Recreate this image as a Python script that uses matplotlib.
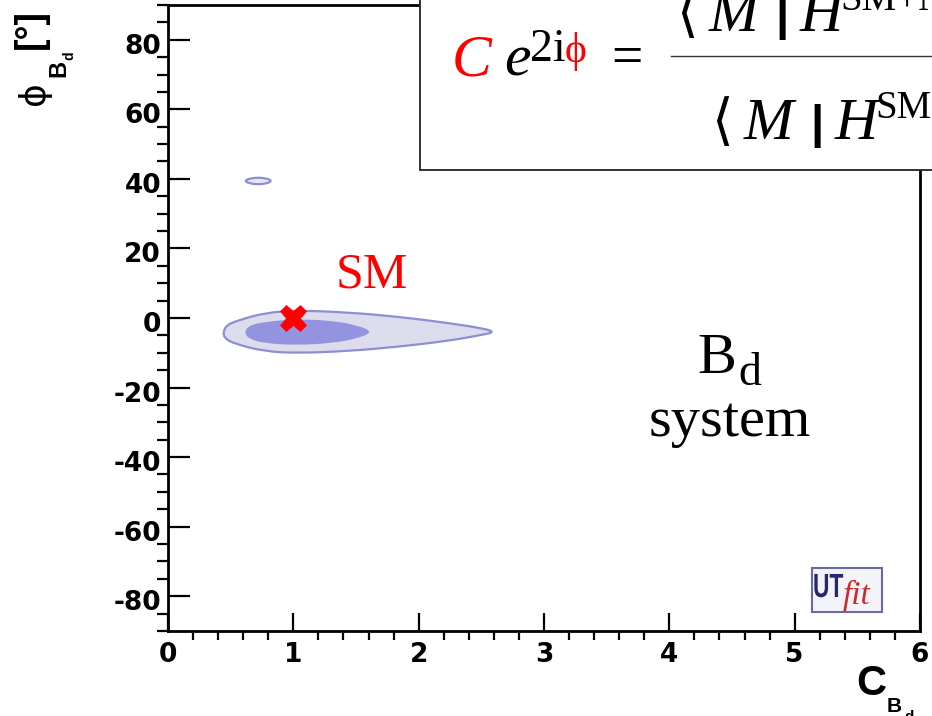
import numpy as np
import matplotlib
matplotlib.use("Agg")
import matplotlib.pyplot as plt
from matplotlib.path import Path
from matplotlib.patches import PathPatch, Rectangle
from matplotlib.ticker import MultipleLocator
from matplotlib.textpath import TextPath
from matplotlib.font_manager import FontProperties
from matplotlib.transforms import Affine2D, IdentityTransform, ScaledTranslation

plt.rcParams["axes.unicode_minus"] = False

W, H = 932, 716

# probability regions in the (C, phi) plane, outlines traced clockwise
outer_c = [0.44, 0.47, 0.55, 0.77, 1.04, 1.44, 1.83, 2.23, 2.50, 2.61,
           2.50, 2.23, 1.83, 1.44, 1.04, 0.77, 0.53, 0.45]
outer_phi = [-4.0, -2.0, -0.8, 1.5, 2.2, 1.6, 0.4, -1.4, -2.9, -4.0,
             -4.9, -6.6, -8.3, -9.5, -10.1, -9.6, -7.4, -5.8]

inner_c = [0.61, 0.65, 0.77, 1.04, 1.31, 1.50, 1.64, 1.50, 1.31, 1.04, 0.77, 0.64]
inner_phi = [-4.0, -2.1, -1.1, -0.3, -0.8, -2.0, -4.0, -6.0, -7.2, -7.8, -7.3, -5.9]

island_c = [0.61, 0.65, 0.72, 0.79, 0.83, 0.79, 0.72, 0.65]
island_phi = [39.4, 40.1, 40.4, 40.1, 39.4, 38.7, 38.4, 38.7]

# Standard Model point
sm_c, sm_phi = 1.0, 0.0

x_ticks = [0, 1, 2, 3, 4, 5, 6]
y_ticks = [-80, -60, -40, -20, 0, 20, 40, 60, 80]

OUTER_FILL = "#dcdcec"
EDGE = "#8e8ed4"
INNER_FILL = "#9393e0"


def smooth_closed(xs, ys):
    # quadratic bezier through the midpoints, vertices act as control points
    pts = np.column_stack([xs, ys])
    mids = (pts + np.roll(pts, -1, axis=0)) / 2
    verts = [mids[-1]]
    codes = [Path.MOVETO]
    for p, m in zip(pts, mids):
        verts += [p, m]
        codes += [Path.CURVE3, Path.CURVE3]
    return Path(verts, codes)


def px(x, y):
    return x / W, 1 - y / H


fig = plt.figure(figsize=(W / 100, H / 100), dpi=100)
ax = fig.add_axes([168 / W, 1 - 631 / H, (920 - 168) / W, (631 - 5) / H])

ax.add_patch(PathPatch(smooth_closed(outer_c, outer_phi), facecolor=OUTER_FILL,
                       edgecolor=EDGE, lw=1.6, zorder=2))
ax.add_patch(PathPatch(smooth_closed(inner_c, inner_phi), facecolor=INNER_FILL,
                       edgecolor="none", zorder=3))
ax.add_patch(PathPatch(smooth_closed(island_c, island_phi), facecolor="#e6e6f2",
                       edgecolor=EDGE, lw=1.6, zorder=2))

ax.plot([sm_c], [sm_phi], marker="X", ms=19, color="red", mec="red", mew=0.5,
        ls="none", zorder=5)

ax.set_xlim(0, 6)
ax.set_ylim(-90, 90)
ax.set_xticks(x_ticks)
ax.set_yticks(y_ticks)
ax.xaxis.set_minor_locator(MultipleLocator(0.2))
ax.yaxis.set_minor_locator(MultipleLocator(5))

for s in ax.spines.values():
    s.set_linewidth(2.0)
ax.tick_params(direction="in", width=1.6, labelsize=19, top=False, right=False)
ax.tick_params(axis="x", which="major", length=13, pad=8)
ax.tick_params(axis="x", which="minor", length=6.5, width=1.6)
ax.tick_params(axis="y", which="major", length=16, pad=5)
ax.tick_params(axis="y", which="minor", length=8, width=1.6)
for lab in ax.get_xticklabels() + ax.get_yticklabels():
    lab.set_family("DejaVu Sans")
    lab.set_fontweight("bold")
down = ScaledTranslation(0, -0.04, fig.dpi_scale_trans)
for lab in ax.get_yticklabels():
    lab.set_transform(lab.get_transform() + down)

# axis titles
sans_b = dict(family="Liberation Sans", fontweight="bold", color="black")
fig.text(*px(856, 695), "C", fontsize=30, ha="left", va="baseline", **sans_b)
fig.text(*px(887, 712), "B", fontsize=15, ha="left", va="baseline", **sans_b)
fig.text(*px(904, 721), "d", fontsize=11, ha="left", va="baseline", **sans_b)

fig.text(*px(34, 93), "\u03d5", fontsize=26, rotation=90, ha="center", va="center",
         family=["DejaVu Sans"], color="black")
fig.text(*px(59, 68), "B", fontsize=17, rotation=90, ha="center", va="center", **sans_b)
fig.text(*px(69, 56), "d", fontsize=10, rotation=90, ha="center", va="center", **sans_b)
fig.text(*px(31, 29), "[\u00b0]", fontsize=27, rotation=90, ha="center", va="center",
         **sans_b)

serif = ["Liberation Serif", "DejaVu Serif", "DejaVu Sans"]

# in-plot labels
fig.text(*px(336, 288), "SM", fontsize=36, color="red", family=serif,
         ha="left", va="baseline")
fig.text(*px(697, 373), "B", fontsize=42, family=serif, ha="left", va="baseline")
fig.text(*px(738, 385), "d", fontsize=33, family=serif, ha="left", va="baseline")
fig.text(*px(730, 436), "system", fontsize=42, family=serif, ha="center", va="baseline")

# definition box in the upper right corner
fig.add_artist(Rectangle(px(420, 170), 600 / W, 200 / H, facecolor="white",
                         edgecolor="#222222", lw=1.3, zorder=1))
fig.text(*px(452, 76), "C", fontsize=43, color="red", family=serif, style="italic",
         ha="left", va="baseline")
fig.text(*px(504, 76), "e", fontsize=43, family=serif, style="italic",
         ha="left", va="baseline")
fig.text(*px(530, 61), "2i", fontsize=33, family=serif, ha="left", va="baseline")
fig.text(*px(565, 62), "\u03d5", fontsize=30, color="red", family=serif,
         ha="left", va="baseline")
fig.text(*px(611, 74), "=", fontsize=40, family=serif, ha="left", va="baseline")
fig.add_artist(plt.Line2D([671 / W, 1.0], [1 - 56 / H] * 2, color="#333333",
                          lw=1.0, zorder=4))
for x0, y0, sup in [(676, 31, "SM+NP"), (711, 139, "SM")]:
    fig.text(*px(x0, y0), "\u27e8", fontsize=40, family=["DejaVu Sans"],
             ha="left", va="baseline")
    fig.text(*px(x0 + 33, y0), "M", fontsize=43, family=serif, style="italic",
             ha="left", va="baseline")
    fig.text(*px(x0 + 99, y0 - 1), "|", fontsize=34, family=["Liberation Sans"],
             fontweight="bold", ha="left", va="baseline")
    fig.text(*px(x0 + 124, y0), "H", fontsize=43, family=serif, style="italic",
             ha="left", va="baseline")
    fig.text(*px(x0 + 164, y0 - 21), sup, fontsize=28, family=serif,
             ha="left", va="baseline")

# UTfit badge
fig.add_artist(Rectangle(px(812, 612), 70 / W, 44 / H, facecolor="#f3f3fa",
                         edgecolor="#6a6aa0", lw=1.5, zorder=3))
ut = TextPath((0, 0), "UT", size=33.5,
              prop=FontProperties(family="Liberation Sans", weight="bold"))
ut_tf = Affine2D().scale(0.68, 1.0).translate(813, H - 597)
fig.add_artist(PathPatch(ut_tf.transform_path(ut), transform=IdentityTransform(),
                         facecolor="#27276a", edgecolor="none", zorder=4))
fig.text(*px(843, 604), "fit", fontsize=24, color="#cc2a2a", family=serif,
         style="italic", ha="left", va="baseline", zorder=5)

fig.savefig("out.png", dpi=100)
